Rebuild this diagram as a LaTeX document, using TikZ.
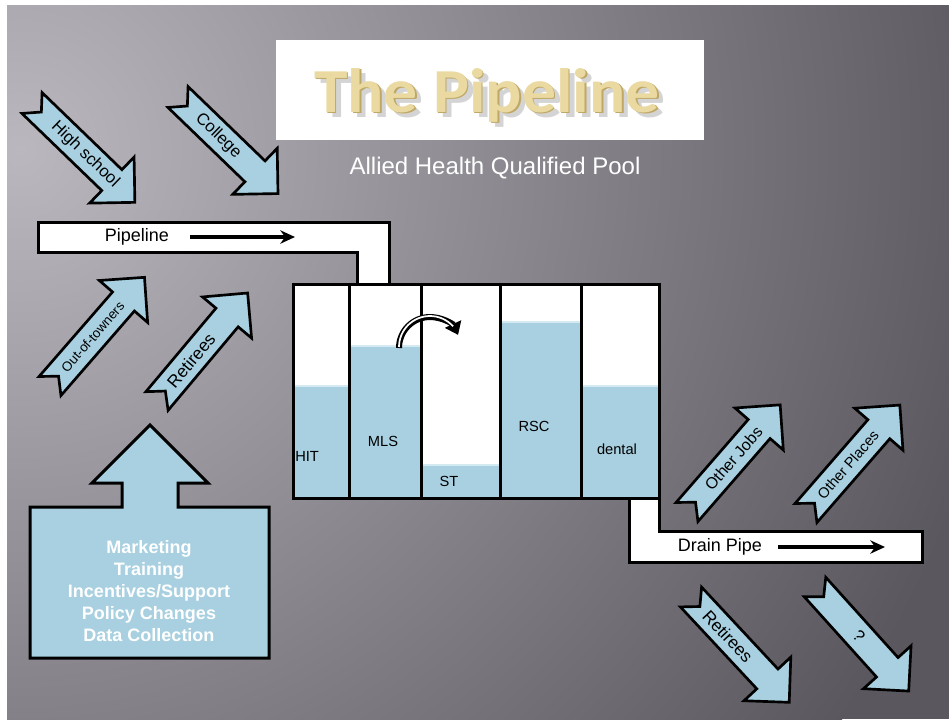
\documentclass[tikz,border=0pt]{standalone}
\usepackage{fontspec}
\setmainfont{Liberation Sans}
\newfontfamily\titlefont{Carlito}
\usetikzlibrary{arrows.meta}

\definecolor{fluid}{HTML}{A8D0E0}
\definecolor{fluidtop}{HTML}{D4EAF2}
\definecolor{bgdark}{HTML}{5A585E}
\definecolor{bglight}{HTML}{BAB8BE}
\definecolor{gold}{HTML}{EADAA2}
\definecolor{golddark}{HTML}{BFA865}

\tikzset{
  outline/.style={draw=black, line width=2.25pt, line join=miter},
  blockarrow/.style={outline, fill=fluid, line width=2pt},
  arrowlabel/.style={inner sep=0pt, text=black},
  tanklabel/.style={inner sep=0pt, font=\fontsize{11}{13}\selectfont},
  pipelabel/.style={inner sep=0pt, font=\fontsize{13.5}{15}\selectfont},
  flowarrow/.style={line width=2.8pt, -{Stealth[length=11pt, width=10pt]}},
  titletext/.style={anchor=base, inner sep=0pt, xscale=1.08,
    font=\titlefont\bfseries\fontsize{47}{47}\selectfont},
}

% notched block arrow: name, tail centre, angle, length, label position, label, font size
\newcommand{\notcharrow}[7]{%
  \begin{scope}[shift={#2}, rotate=#3]
    \draw[blockarrow] (0,14.5) -- ({#4-32},14.5) -- ({#4-32},32) -- (#4,0)
      -- ({#4-32},-32) -- ({#4-32},-14.5) -- (0,-14.5) -- (13,0) -- cycle;
    \node[arrowlabel, rotate=#3, font=\fontsize{#7}{#7}\selectfont] (#1) at (#5,0) {#6};
  \end{scope}}

\begin{document}
\begin{tikzpicture}[x=0.75pt, y=-0.75pt]
\useasboundingbox (0,0) rectangle (949,719);
\fill[white] (0,0) rectangle (949,719);

% slide background
\begin{scope}
  \clip (7,5) rectangle (949,719);
  \fill[bgdark] (7,5) rectangle (949,719);
  \shade[inner color=bglight, outer color=bgdark] (20,150) circle (1000);
\end{scope}

% title banner
\fill[white] (276,40) rectangle (704,140);
\node[titletext, text=black!55, opacity=0.3] at (493,117) {The Pipeline};
\node[titletext, text=golddark] at (488.5,113.5) {The Pipeline};
\node[titletext, text=gold] (title) at (487,112) {The Pipeline};
\node[text=white, font=\fontsize{18}{20}\selectfont] (subtitle) at (495,168) {Allied Health Qualified Pool};

% incoming pipe
\draw[outline, fill=white] (38,222) -- (389,222) -- (389,285) -- (357,285) -- (357,252) -- (38,252) -- cycle;
\node[pipelabel] (pipelabel) at (137,237) {Pipeline};
\coordinate (pa1) at (190,237);
\coordinate (pa2) at (295,237);
\draw[flowarrow] (pa1) -- (pa2);

% drain pipe
\draw[outline, fill=white] (629,497) -- (659,497) -- (659,531) -- (922,531) -- (922,562) -- (629,562) -- cycle;
\node[pipelabel] (drainlabel) at (720,547) {Drain Pipe};
\coordinate (da1) at (778,547);
\coordinate (da2) at (885,547);
\draw[flowarrow] (da1) -- (da2);

% tank with five compartments
\fill[white] (293,284) rectangle (659,498);
\fill[fluid] (293,386) rectangle (349,498);
\fill[fluid] (349,346) rectangle (421,498);
\fill[fluid] (421,465) rectangle (500,498);
\fill[fluid] (500,322) rectangle (581,498);
\fill[fluid] (581,386) rectangle (659,498);
\draw[fluidtop, line width=0.8pt] (293,386) -- (349,386) (349,346) -- (421,346)
  (421,465) -- (500,465) (500,322) -- (581,322) (581,386) -- (659,386);
\draw[outline] (293,284) rectangle (659,498);
\foreach \x in {349,421,500,581} \draw[outline] (\x,284) -- (\x,498);

\node[tanklabel, anchor=west] (hit) at (295,456) {HIT};
\node[tanklabel] (mls) at (383,441) {MLS};
\node[tanklabel] (st) at (449,481) {ST};
\node[tanklabel] (rsc) at (534,426) {RSC};
\node[tanklabel] (dental) at (617,449) {dental};

% transfer arrow from MLS to ST
\coordinate (ts) at (399,348);
\draw[line width=4.5pt, -{Triangle[length=9pt, width=13pt]}] (ts) arc[start angle=180, end angle=335, radius=31];
\draw[white, line width=1.3pt] (399,347) arc[start angle=180, end angle=318, radius=31];

% inflow arrows
\notcharrow{highschool}{(32,103)}{-44}{143}{74}{High school}{12.5}
\notcharrow{college}{(178,97)}{-44}{139}{56}{College}{12.5}
\notcharrow{outoftowners}{(50,386)}{49}{144}{65}{Out-of-towners}{10}
\notcharrow{retireesin}{(157,401)}{50}{141}{53}{Retirees}{13}

% outflow arrows
\notcharrow{otherjobs}{(687,512)}{49}{142}{71}{Other Jobs}{12}
\notcharrow{otherplaces}{(806,513)}{49}{143}{64}{Other Places}{11}
\notcharrow{retireesout}{(691,597)}{-47}{144}{54}{Retirees}{13}
\notcharrow{unknown}{(815,587)}{-48}{140}{66}{?}{12.5}

% measures box with upward arrow
\draw[outline, fill=fluid] (30,507) -- (122,507) -- (122,483) -- (92,483) -- (150,425)
  -- (208,483) -- (178,483) -- (178,507) -- (269,507) -- (269,658) -- (30,658) -- cycle;
\node[align=center, text=white, font=\bfseries\fontsize{13.5}{16.5}\selectfont] (measures) at (149,591)
  {Marketing\\Training\\Incentives/Support\\Policy Changes\\Data Collection};
\end{tikzpicture}
\end{document}
